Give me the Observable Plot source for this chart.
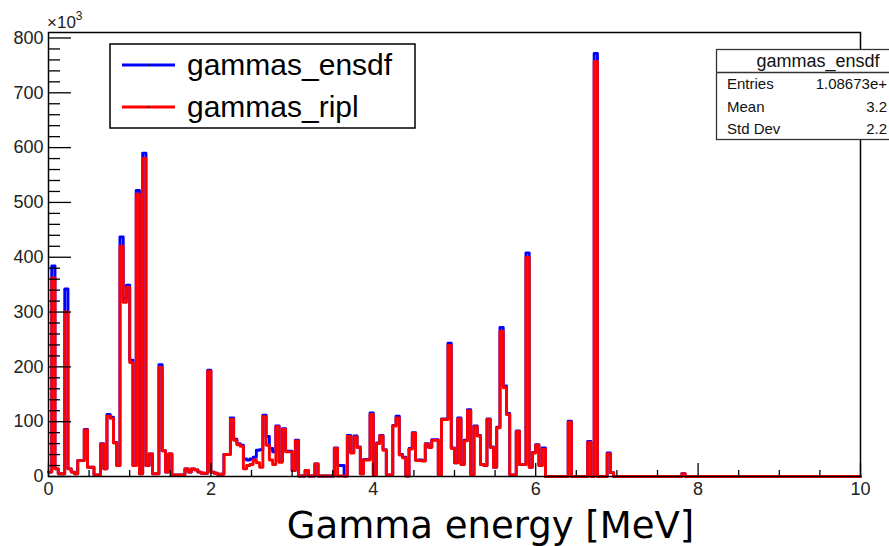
<!DOCTYPE html>
<html><head><meta charset="utf-8">
<script src="https://cdn.jsdelivr.net/npm/d3@7"></script>
<script src="https://cdn.jsdelivr.net/npm/@observablehq/plot@0.6"></script>
<style>html,body{margin:0;padding:0;background:#fff} svg{display:block}</style>
</head><body><div id="chart"></div>
<script>
// Histogram: 250 bins of 0.04 MeV from 0 to 10 MeV, counts in units of 10^3
const binWidth = 0.04;
const ensdf = [
  8, 384, 14, 5, 5, 342, 14, 8, 5, 29, 29, 86, 17, 17, 3, 3, 60, 14, 113, 108, 62, 20, 437, 325, 349,
  212, 20, 522, 5, 590, 20, 41, 5, 5, 204, 47, 8, 41, 3, 3, 3, 3, 14, 8, 14, 12, 8, 6, 6, 194,
  8, 6, 4, 4, 40, 40, 107, 68, 60, 57, 32, 30, 32, 35, 48, 49, 112, 73, 51, 45, 92, 28, 87, 46, 46,
  11, 66, 1, 1, 11, 1, 1, 23, 1, 1, 1, 1, 1, 52, 20, 20, 1, 75, 44, 74, 54, 5, 31, 31, 116,
  3, 61, 75, 49, 3, 3, 93, 110, 40, 35, 1, 51, 80, 30, 30, 29, 60, 54, 67, 67, 3, 105, 105, 243, 52,
  25, 107, 22, 66, 122, 3, 92, 75, 22, 20, 105, 54, 17, 90, 272, 165, 115, 3, 3, 83, 22, 22, 408, 17, 44,
  58, 20, 52, 0, 0, 0, 0, 0, 0, 0, 101, 0, 0, 0, 0, 0, 64, 0, 772, 0, 0, 0, 43, 7, 0,
  0, 0, 0, 0, 0, 0, 0, 0, 0, 0, 0, 0, 0, 0, 0, 0, 0, 0, 0, 0, 5, 0, 0, 0, 0,
  0, 0, 0, 0, 0, 0, 0, 0, 0, 0, 0, 0, 0, 0, 0, 0, 0, 0, 0, 0, 0, 0, 0, 0, 0,
  0, 0, 0, 0, 0, 0, 0, 0, 0, 0, 0, 0, 0, 0, 0, 0, 0, 0, 0, 0, 0, 0, 0, 0, 0
];
const ripl = [
  8, 362, 14, 5, 5, 300, 14, 8, 5, 29, 29, 85, 17, 17, 3, 3, 59, 14, 110, 106, 61, 20, 420, 318, 345,
  208, 20, 515, 5, 580, 20, 41, 5, 5, 199, 47, 8, 41, 3, 3, 3, 3, 14, 8, 14, 12, 8, 6, 6, 192,
  8, 6, 4, 4, 40, 40, 104, 66, 58, 55, 14, 20, 22, 30, 25, 17, 109, 57, 30, 22, 91, 26, 86, 45, 45,
  11, 65, 1, 1, 11, 1, 1, 23, 1, 1, 1, 1, 1, 51, 1, 1, 1, 73, 43, 72, 53, 5, 30, 30, 113,
  3, 60, 74, 48, 3, 3, 92, 107, 39, 34, 1, 50, 79, 29, 29, 28, 59, 53, 66, 66, 3, 104, 104, 239, 51,
  25, 105, 22, 65, 120, 3, 91, 74, 22, 20, 104, 53, 17, 89, 265, 162, 113, 3, 3, 82, 22, 22, 400, 17, 43,
  57, 20, 50, 0, 0, 0, 0, 0, 0, 0, 99, 0, 0, 0, 0, 0, 62, 0, 757, 0, 0, 0, 41, 7, 0,
  0, 0, 0, 0, 0, 0, 0, 0, 0, 0, 0, 0, 0, 0, 0, 0, 0, 0, 0, 0, 5, 0, 0, 0, 0,
  0, 0, 0, 0, 0, 0, 0, 0, 0, 0, 0, 0, 0, 0, 0, 0, 0, 0, 0, 0, 0, 0, 0, 0, 0,
  0, 0, 0, 0, 0, 0, 0, 0, 0, 0, 0, 0, 0, 0, 0, 0, 0, 0, 0, 0, 0, 0, 0, 0, 0
];
const seriesNames = ["gammas_ensdf", "gammas_ripl"];
const seriesColors = ["#0000ff", "#ff0000"];
const yMajor = [0, 100, 200, 300, 400, 500, 600, 700, 800];
const xMajor = [0, 2, 4, 6, 8, 10];
const xTitle = "Gamma energy [MeV]";
const yExponent = ["\u00d710", "3"];
const statsTitle = "gammas_ensdf";
const statsLabels = ["Entries", "Mean", "Std Dev"];
const statsValues = ["1.08673e+", "3.2", "2.2"];

const yMinor = d3.range(0, 810, 20).filter(d => d % 100 !== 0);
const xMinor = d3.range(0, 10.01, 0.5).filter(d => d % 2 !== 0);

function outline(values) {
  const pts = [];
  values.forEach((v, i) => {
    pts.push({x: i * binWidth, y: v});
    pts.push({x: (i + 1) * binWidth, y: v});
  });
  return pts;
}

const font = "'Liberation Sans', Arial, Helvetica, sans-serif";
const chart = Plot.plot({
  width: 889, height: 546,
  marginLeft: 48, marginRight: 29, marginTop: 32, marginBottom: 70,
  x: {domain: [0, 10]},
  y: {domain: [0, 810]},
  style: {fontFamily: font, background: "white", color: "#000"},
  marks: [
    Plot.line(outline(ensdf), {x: "x", y: "y", stroke: seriesColors[0], strokeWidth: 2.9}),
    Plot.line(outline(ripl), {x: "x", y: "y", stroke: seriesColors[1], strokeWidth: 2.9}),
    Plot.axisY({ticks: yMajor, tickSize: 23, dx: 23, tickFormat: () => "", label: null, strokeWidth: 1.3}),
    Plot.axisY({ticks: yMinor, tickSize: 12, dx: 12, tickFormat: () => "", label: null, strokeWidth: 1.3}),
    Plot.axisY({ticks: yMajor, tickSize: 0, tickPadding: 5, fontSize: 18, label: null, fill: "#222"}),
    Plot.axisX({ticks: xMajor, tickSize: 13, dy: -13, tickFormat: () => "", label: null, strokeWidth: 1.3}),
    Plot.axisX({ticks: xMinor, tickSize: 6, dy: -6, tickFormat: () => "", label: null, strokeWidth: 1.3}),
    Plot.axisX({ticks: xMajor, tickSize: 0, tickPadding: 6, fontSize: 18, label: null, fill: "#222"}),
    Plot.frame({stroke: "black", strokeWidth: 1.5}),
    Plot.text([xTitle], {frameAnchor: "bottom", lineAnchor: "bottom", dy: 61, dx: 36, fontSize: 37, fontFamily: "'DejaVu Sans', sans-serif", fill: "#000"})
  ]
});
document.getElementById("chart").appendChild(chart);

const svg = d3.select(chart);
// exponent label
const ex = svg.append("text").attr("x", 47).attr("y", 28).attr("text-anchor", "start")
  .attr("font-family", font).attr("font-size", 17).attr("fill", "#222");
ex.append("tspan").text(yExponent[0]);
ex.append("tspan").attr("dy", -8).attr("font-size", 12).text(yExponent[1]);

// legend
const lg = svg.append("g").attr("text-anchor", "start");
lg.append("rect").attr("x", 110).attr("y", 44).attr("width", 305).attr("height", 84)
  .attr("fill", "white").attr("stroke", "black").attr("stroke-width", 1.5);
seriesNames.forEach((name, i) => {
  const cy = 65 + i * 42;
  lg.append("line").attr("x1", 122).attr("x2", 175).attr("y1", cy).attr("y2", cy)
    .attr("stroke", seriesColors[i]).attr("stroke-width", 3);
  lg.append("circle").attr("cx", 148.5).attr("cy", cy).attr("r", 0.9).attr("fill", "#222");
  lg.append("text").attr("x", 187).attr("y", cy + 10).attr("text-anchor", "start").attr("font-family", font)
    .attr("font-size", 30).attr("fill", "#000").text(name);
});

// stats box
const st = svg.append("g").attr("text-anchor", "start");
st.append("rect").attr("x", 716.5).attr("y", 49.5).attr("width", 210).attr("height", 90)
  .attr("fill", "white").attr("stroke", "#333").attr("stroke-width", 1.3);
st.append("line").attr("x1", 716.5).attr("x2", 930).attr("y1", 72.5).attr("y2", 72.5)
  .attr("stroke", "#333").attr("stroke-width", 1.3);
st.append("text").attr("x", 818).attr("y", 67).attr("text-anchor", "middle")
  .attr("font-family", font).attr("font-size", 18).attr("fill", "#111").text(statsTitle);
statsLabels.forEach((lab, i) => {
  const by = 89 + i * 22.5;
  st.append("text").attr("x", 727).attr("y", by).attr("text-anchor", "start").attr("font-family", font)
    .attr("font-size", 15).attr("fill", "#111").text(lab);
  st.append("text").attr("x", 887).attr("y", by).attr("text-anchor", "end").attr("font-family", font)
    .attr("font-size", 15).attr("fill", "#111").text(statsValues[i]);
});
</script>
</body></html>
